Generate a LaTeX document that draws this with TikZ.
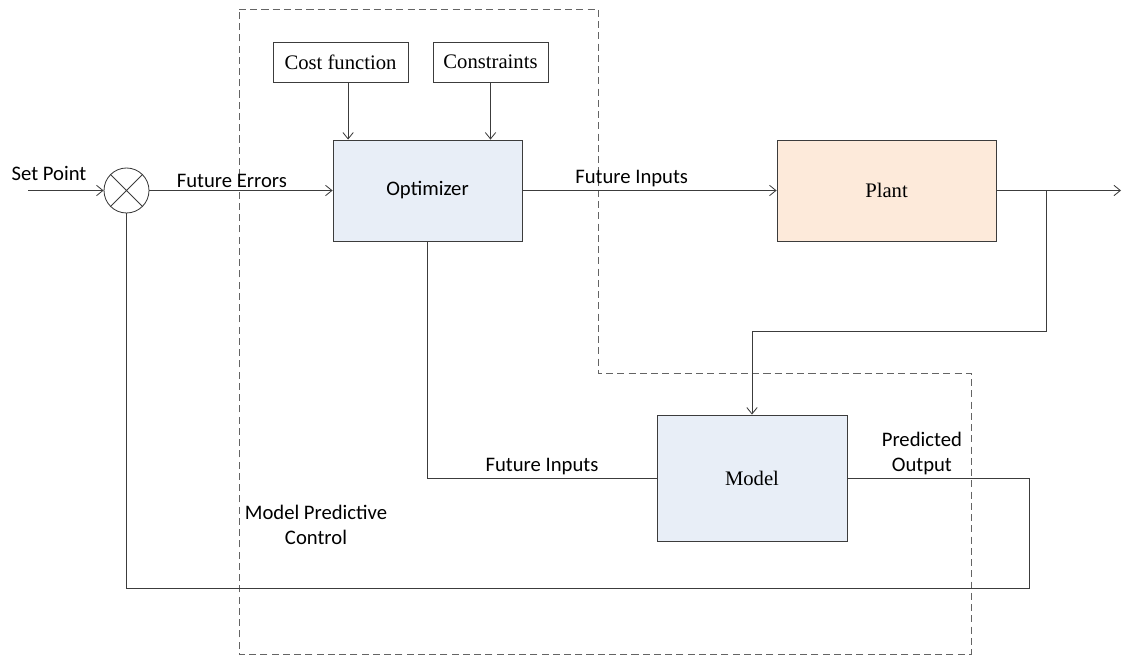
\documentclass[tikz,border=0pt]{standalone}
\usepackage{fontspec}
\setmainfont{Carlito}
\newfontfamily\serifbox{Liberation Serif}
\usetikzlibrary{positioning, arrows.meta}
\definecolor{boxblue}{RGB}{232,238,247}
\definecolor{boxpeach}{RGB}{253,234,218}
\definecolor{linegray}{RGB}{60,60,60}
\definecolor{dashgray}{RGB}{100,100,100}
\newcommand{\labelsize}{\fontsize{14.7}{18}\selectfont}
\tikzset{>={Straight Barb[length=1.6mm,width=2.6mm]}, % thin open arrow heads
every node/.style={font=\labelsize}, % all labels the same size
block/.style={draw=linegray, line width=0.6pt, inner sep=0pt}, % the boxes
wire/.style={draw=linegray, line width=0.6pt}, % the signal lines
lbl/.style={inner sep=2pt}, % text put on a line
}

\begin{document}
\begin{tikzpicture}
    \useasboundingbox (0,0) rectangle (28.275,-16.375);
    % boundary of the controller
    \draw[dashgray, line width=0.6pt, dash pattern=on 5pt off 3pt]
      (5.975,-0.225) -- (14.95,-0.225) -- (14.95,-9.325) -- (24.275,-9.325)
      -- (24.275,-16.35) -- (5.975,-16.35) -- cycle;
    \node[align=center] (mpc) at (7.9,-13.125) {Model Predictive\\Control};

    \node[block, circle, minimum size=1.125cm] (sum) at (3.1625,-4.7625) {};
    \draw[wire] (sum.north west) -- (sum.south east) (sum.north east) -- (sum.south west);
    \node[block, fill=boxblue, minimum width=4.725cm, minimum height=2.525cm] (opt) at (10.6875,-4.7625) {Optimizer};
    \node[block, fill=boxpeach, minimum width=5.475cm, minimum height=2.525cm, font=\serifbox\labelsize] (plant) at (22.1625,-4.7625) {Plant};
    \node[block, fill=boxblue, minimum width=4.75cm, minimum height=3.15cm, font=\serifbox\labelsize] (model) at (18.8,-11.95) {Model};
    \node[block, minimum width=3.375cm, minimum height=1cm, font=\serifbox\labelsize] (cost) at (8.5125,-1.55) {Cost function};
    \node[block, minimum width=2.875cm, minimum height=1cm, font=\serifbox\labelsize] (cons) at (12.2625,-1.55) {Constraints};

    \node (setp) at (1.225,-4.325) {Set Point};
    \coordinate (in) at (0.7,-4.7625);
    \coordinate (out) at (28.025,-4.7625);
    \coordinate (split) at (26.15,-4.7625);
    \coordinate (turn) at (18.8,-8.275);
    \coordinate (loop) at (25.725,-11.95);
    \coordinate (fb) at (3.1625,-14.7);

    \draw[wire, ->] (in) -- (sum.west);
    \draw[wire, ->] (sum.east) -- node[lbl, above, pos=0.45]{Future Errors} (opt.west);
    \draw[wire, ->] ([xshift=1.9mm]cost.south) -- ([xshift=1.9mm]cost.south |- opt.north);
    \draw[wire, ->] (cons.south) -- (cons.south |- opt.north);
    \draw[wire, ->] (opt.east) -- node[lbl, above, pos=0.43]{Future Inputs} (plant.west);
    \draw[wire, ->] (plant.east) -- (out);
    \draw[wire, ->] (split) |- (turn) -- (model.north);
    \draw[wire] (opt.south) |- node[lbl, above, pos=0.75]{Future Inputs} (model.west);
    \draw[wire] (model.east) -- node[lbl, above, pos=0.41, align=center]{Predicted\\Output} (loop)
      |- (fb) -- (sum.south);
\end{tikzpicture}
\end{document}
